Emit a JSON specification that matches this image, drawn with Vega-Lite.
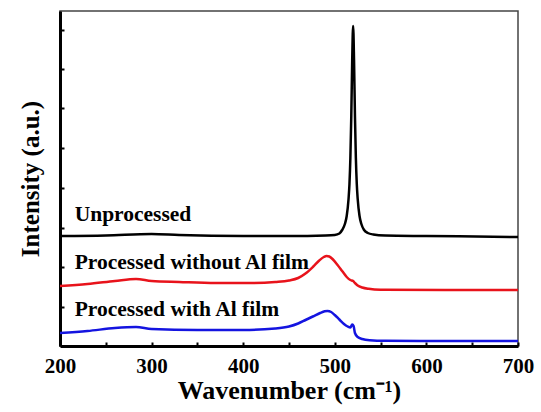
{
  "$schema": "https://vega.github.io/schema/vega-lite/v6.json",
  "width": 458,
  "height": 335,
  "autosize": {"type": "none"},
  "padding": {"left": 60, "top": 11, "right": 23, "bottom": 66},
  "background": "white",
  "config": {
    "view": {"stroke": "#444", "strokeWidth": 1.5},
    "font": "Liberation Serif"
  },
  "datasets": {
    "spectra": [
      {"w": 200, "I": 110, "s": "Unprocessed"},
      {"w": 250, "I": 110.5, "s": "Unprocessed"},
      {"w": 300, "I": 112, "s": "Unprocessed"},
      {"w": 330, "I": 111, "s": "Unprocessed"},
      {"w": 400, "I": 110, "s": "Unprocessed"},
      {"w": 450, "I": 110, "s": "Unprocessed"},
      {"w": 490, "I": 110.5, "s": "Unprocessed"},
      {"w": 500, "I": 111, "s": "Unprocessed"},
      {"w": 505, "I": 112.5, "s": "Unprocessed"},
      {"w": 508, "I": 116, "s": "Unprocessed"},
      {"w": 511, "I": 122, "s": "Unprocessed"},
      {"w": 513, "I": 130, "s": "Unprocessed"},
      {"w": 515, "I": 147, "s": "Unprocessed"},
      {"w": 516, "I": 162, "s": "Unprocessed"},
      {"w": 517, "I": 188, "s": "Unprocessed"},
      {"w": 518, "I": 230, "s": "Unprocessed"},
      {"w": 519, "I": 286, "s": "Unprocessed"},
      {"w": 520, "I": 320, "s": "Unprocessed"},
      {"w": 521, "I": 286, "s": "Unprocessed"},
      {"w": 522, "I": 230, "s": "Unprocessed"},
      {"w": 523, "I": 188, "s": "Unprocessed"},
      {"w": 524, "I": 162, "s": "Unprocessed"},
      {"w": 525, "I": 147, "s": "Unprocessed"},
      {"w": 527, "I": 130, "s": "Unprocessed"},
      {"w": 529, "I": 122, "s": "Unprocessed"},
      {"w": 532, "I": 116, "s": "Unprocessed"},
      {"w": 536, "I": 113, "s": "Unprocessed"},
      {"w": 542, "I": 111.5, "s": "Unprocessed"},
      {"w": 555, "I": 110.5, "s": "Unprocessed"},
      {"w": 600, "I": 110, "s": "Unprocessed"},
      {"w": 700, "I": 109, "s": "Unprocessed"},

      {"w": 200, "I": 60, "s": "Red"},
      {"w": 230, "I": 62, "s": "Red"},
      {"w": 260, "I": 65, "s": "Red"},
      {"w": 283, "I": 67, "s": "Red"},
      {"w": 300, "I": 65, "s": "Red"},
      {"w": 330, "I": 64, "s": "Red"},
      {"w": 370, "I": 63, "s": "Red"},
      {"w": 410, "I": 63, "s": "Red"},
      {"w": 435, "I": 64, "s": "Red"},
      {"w": 450, "I": 65.5, "s": "Red"},
      {"w": 460, "I": 68, "s": "Red"},
      {"w": 468, "I": 72.5, "s": "Red"},
      {"w": 476, "I": 79, "s": "Red"},
      {"w": 483, "I": 85.5, "s": "Red"},
      {"w": 488, "I": 89, "s": "Red"},
      {"w": 491, "I": 90, "s": "Red"},
      {"w": 494, "I": 89.5, "s": "Red"},
      {"w": 498, "I": 86.5, "s": "Red"},
      {"w": 503, "I": 81, "s": "Red"},
      {"w": 508, "I": 75, "s": "Red"},
      {"w": 513, "I": 69, "s": "Red"},
      {"w": 517, "I": 66, "s": "Red"},
      {"w": 520, "I": 65, "s": "Red"},
      {"w": 522, "I": 63, "s": "Red"},
      {"w": 525, "I": 60.5, "s": "Red"},
      {"w": 530, "I": 58.5, "s": "Red"},
      {"w": 537, "I": 57.2, "s": "Red"},
      {"w": 550, "I": 56.3, "s": "Red"},
      {"w": 620, "I": 56, "s": "Red"},
      {"w": 700, "I": 56, "s": "Red"},

      {"w": 200, "I": 13, "s": "Blue"},
      {"w": 230, "I": 15, "s": "Blue"},
      {"w": 260, "I": 18, "s": "Blue"},
      {"w": 283, "I": 19, "s": "Blue"},
      {"w": 300, "I": 17, "s": "Blue"},
      {"w": 350, "I": 16, "s": "Blue"},
      {"w": 400, "I": 16, "s": "Blue"},
      {"w": 435, "I": 17.5, "s": "Blue"},
      {"w": 450, "I": 19.5, "s": "Blue"},
      {"w": 460, "I": 22.5, "s": "Blue"},
      {"w": 468, "I": 26, "s": "Blue"},
      {"w": 476, "I": 29.5, "s": "Blue"},
      {"w": 484, "I": 33, "s": "Blue"},
      {"w": 489, "I": 34.7, "s": "Blue"},
      {"w": 492, "I": 35, "s": "Blue"},
      {"w": 496, "I": 34, "s": "Blue"},
      {"w": 500, "I": 31, "s": "Blue"},
      {"w": 505, "I": 26.5, "s": "Blue"},
      {"w": 510, "I": 22, "s": "Blue"},
      {"w": 514, "I": 19.5, "s": "Blue"},
      {"w": 517, "I": 18.5, "s": "Blue"},
      {"w": 519, "I": 21.5, "s": "Blue"},
      {"w": 520.5, "I": 20, "s": "Blue"},
      {"w": 522, "I": 13, "s": "Blue"},
      {"w": 525, "I": 9, "s": "Blue"},
      {"w": 530, "I": 7, "s": "Blue"},
      {"w": 538, "I": 5.8, "s": "Blue"},
      {"w": 555, "I": 5.2, "s": "Blue"},
      {"w": 620, "I": 5, "s": "Blue"},
      {"w": 700, "I": 5, "s": "Blue"}
    ],
    "labels": [
      {"w": 216, "I": 131, "t": "Unprocessed"},
      {"w": 216, "I": 83, "t": "Processed without Al film"},
      {"w": 216, "I": 36, "t": "Processed with Al film"}
    ]
  },
  "layer": [
    {
      "data": {"name": "spectra"},
      "mark": {"type": "line", "strokeWidth": 2.5, "clip": true, "interpolate": "monotone"},
      "encoding": {
        "x": {
          "field": "w", "type": "quantitative",
          "scale": {"domain": [200, 700], "nice": false},
          "axis": {
            "title": "Wavenumber (cm⁻¹)",
            "values": [200, 250, 300, 350, 400, 450, 500, 550, 600, 650, 700],
            "labelExpr": "datum.value % 100 === 0 ? datum.label : ''",
            "grid": false,
            "domainColor": "black", "domainWidth": 3,
            "tickColor": "black", "tickWidth": 2, "tickSize": -4,
            "labelPadding": 13,
            "labelFont": "Liberation Serif", "labelFontWeight": "bold", "labelFontSize": 21, "labelColor": "black",
            "labelFlush": false,
            "titleFont": "Liberation Serif", "titleFontWeight": "bold", "titleFontSize": 26, "titleColor": "black",
            "titlePadding": 1
          }
        },
        "y": {
          "field": "I", "type": "quantitative",
          "scale": {"domain": [0, 335], "nice": false},
          "axis": {
            "title": "Intensity (a.u.)",
            "values": [39, 79, 118, 158, 198, 238, 277, 316],
            "labels": false,
            "grid": false,
            "domainColor": "black", "domainWidth": 3,
            "tickColor": "black", "tickWidth": 2, "tickSize": -4,
            "titleFont": "Liberation Serif", "titleFontWeight": "bold", "titleFontSize": 25, "titleColor": "black",
            "titlePadding": 16
          }
        },
        "color": {
          "field": "s", "type": "nominal",
          "scale": {"domain": ["Unprocessed", "Red", "Blue"], "range": ["#000000", "#e8131b", "#1414e0"]},
          "legend": null
        }
      }
    },
    {
      "data": {"name": "labels"},
      "mark": {"type": "text", "align": "left", "baseline": "middle", "font": "Liberation Serif", "fontWeight": "bold", "fontSize": 21.5, "color": "black"},
      "encoding": {
        "x": {"field": "w", "type": "quantitative"},
        "y": {"field": "I", "type": "quantitative"},
        "text": {"field": "t"}
      }
    }
  ]
}
